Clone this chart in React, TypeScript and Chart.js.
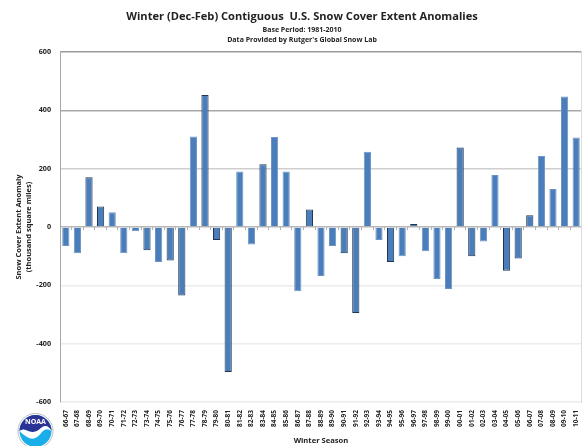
import { useEffect, useRef } from "react";
import { Chart, registerables } from "chart.js";

Chart.register(...registerables);

const seasons = ["66-67","67-68","68-69","69-70","70-71","71-72","72-73","73-74","74-75","75-76","76-77","77-78","78-79","79-80","80-81","81-82","82-83","83-84","84-85","85-86","86-87","87-88","88-89","89-90","90-91","91-92","92-93","93-94","94-95","95-96","96-97","97-98","98-99","99-00","00-01","01-02","02-03","03-04","04-05","05-06","06-07","07-08","08-09","09-10","10-11"];
const anomalies = [-65,-90,170,70,50,-90,-15,-80,-120,-115,-235,310,452,-45,-497,190,-60,215,308,190,-220,60,-168,-65,-90,-295,258,-45,-120,-100,10,-83,-178,-213,272,-100,-50,178,-150,-108,40,243,130,447,307];
const darkEdgeSeasons = ["68-69","69-70","73-74","75-76","76-77","78-79","79-80","80-81","83-84","87-88","90-91","91-92","94-95","96-97","00-01","01-02","04-05","05-06","06-07"];
const titleText = "Winter (Dec-Feb) Contiguous  U.S. Snow Cover Extent Anomalies";
const subtitleLines = ["Base Period: 1981-2010", "Data Provided by Rutger's Global Snow Lab"];
const yTitleLines = ["Snow Cover Extent Anomaly", "(thousand square miles)"];

const FONT = "'Open Sans', sans-serif";
const TEXT = "#222";

function gridColor(value: number) {
  if (value === 600) return "#9a9a9a";
  if (value === 400) return "#a8a8a8";
  if (value === 200) return "#cfcfcf";
  if (value === 0) return "#b8b8b8";
  return "#ececec";
}

export default function App() {
  const ref = useRef<HTMLCanvasElement>(null);
  useEffect(() => {
    const chart = new Chart(ref.current!, {
      type: "bar",
      data: {
        labels: seasons,
        datasets: [{
          data: anomalies,
          backgroundColor: "#4a7ebb",
          borderColor: seasons.map((s) => (darkEdgeSeasons.includes(s) ? "#22344f" : "#6f94c4")),
          borderWidth: 1,
          barPercentage: 0.62,
          categoryPercentage: 1,
        }],
      },
      options: {
        responsive: false,
        animation: false,
        layout: { padding: { left: 22, right: 2, top: 0, bottom: 0 } },
        plugins: {
          legend: { display: false },
          tooltip: { enabled: false },
          title: {
            display: true,
            text: titleText,
            color: "#222",
            font: { family: FONT, size: 11.1, weight: "bold", lineHeight: 1.2 },
            padding: { top: 10, bottom: 2 },
          },
          subtitle: {
            display: true,
            text: subtitleLines,
            color: "#222",
            font: { family: FONT, size: 7, weight: "bold", lineHeight: 1.4 },
            padding: { top: 0, bottom: 7 },
          },
        },
        scales: {
          x: {
            type: "category",
            position: "bottom",
            grid: { display: false },
            border: { display: false },
            ticks: {
              autoSkip: false,
              minRotation: 90,
              maxRotation: 90,
              padding: 0,
              color: TEXT,
              font: { family: FONT, size: 6.5, weight: "bold" },
            },
            title: {
              display: true,
              text: "Winter Season",
              color: TEXT,
              font: { family: FONT, size: 7.6, weight: "bold" },
              padding: { top: 0, bottom: 1 },
            },
            afterFit: (s: any) => { s.height = 44; },
          },
          zero: {
            type: "category",
            labels: seasons,
            position: { y: 0 },
            axis: "x",
            grid: { drawOnChartArea: false, drawTicks: true, tickLength: 3, offset: true, color: "#b0b0b0" },
            border: { display: false },
            ticks: { display: false },
            afterFit: (s: any) => { s.height = 0; },
          },
          y: {
            min: -600,
            max: 600,
            grid: {
              color: (c: any) => gridColor(c.tick.value),
              lineWidth: 1.5,
              drawTicks: false,
            },
            border: { display: true, color: "#a8a8a8" },
            ticks: {
              stepSize: 200,
              padding: 9,
              color: TEXT,
              font: { family: FONT, size: 7.2, weight: "bold" },
            },
            title: {
              display: true,
              text: yTitleLines,
              color: TEXT,
              font: { family: FONT, size: 7.5, weight: "bold", lineHeight: 1.45 },
              padding: { top: -9, bottom: 0 },
            },
            afterFit: (s: any) => { s.width = 38; },
          },
          right: {
            position: "right",
            min: -600,
            max: 600,
            grid: { display: false },
            border: { display: true, color: "#dcdcdc" },
            ticks: { display: false },
            afterFit: (s: any) => { s.width = 0; },
          },
        },
      } as any,
    });
    return () => chart.destroy();
  }, []);

  return (
    <div style={{ position: "fixed", left: 0, top: 0, width: 584, height: 446, background: "#fff", overflow: "hidden" }}>
      <canvas ref={ref} width={584} height={446} style={{ display: "block", filter: "blur(0.55px)" }} />
      <svg width={40} height={36} viewBox="0 0 40 36" style={{ position: "absolute", left: 16, top: 412, filter: "blur(0.4px)" }}>
        <circle cx={19.5} cy={19} r={17.5} fill="#fff" stroke="#bbb" strokeWidth={1} />
        <circle cx={19.5} cy={19} r={16} fill="#19aeea" />
        <path d="M3.5 19 A16 16 0 0 1 35.5 19 Q31 11 25 16 Q19 22 12 19 Q7 16 3.5 19 Z" fill="#2b3396" />
        <path d="M3.5 19 Q7 16 12 19 Q19 22 25 16 Q31 11 35.5 19 Q30 15 26 20 Q19 30 11 25 Q6 22 3.5 19 Z" fill="#fff" />
        <text x={19.5} y={12} textAnchor="middle" fontFamily="'Open Sans', sans-serif" fontWeight="bold" fontSize={7} fill="#fff">NOAA</text>
      </svg>
    </div>
  );
}
